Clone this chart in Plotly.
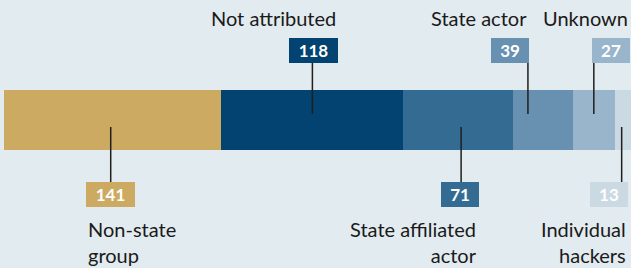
import plotly.graph_objects as go

categories = ["Non-state group", "Not attributed", "State affiliated actor",
              "State actor", "Unknown", "Individual hackers"]
labels = ["Non-state<br>group", "Not attributed", "State affiliated<br>actor",
          "State actor", "Unknown", "Individual<br>hackers"]
values = [141, 118, 71, 39, 27, 13]
colors = ["#cdaa62", "#024372", "#346b93", "#6790b1", "#99b5cc", "#cbd9e3"]

# style: which side the callout sits, line offset (px), box anchor, box offset (px), text anchor
side = ["bottom", "top", "bottom", "top", "top", "bottom"]
line_dx = [-2, 0, 3, -15, 0, -3]
box_anchor = ["center", "center", "center", "right", "left", "right"]
box_dx = [0, 1, -1, 1, -2, 6]
text_anchor = ["left", "right", "right", "right", "right", "right"]

W, H = 631, 268
BG = "#e2ebef"
FONT = "Lato"

# pixel geometry
L_PX = 4.0          # left edge of bar
K = 1.542           # px per unit
BAR_TOP, BAR_BOT = 90, 150
x_min = -L_PX / K
x_max = (W - L_PX) / K
ppu_y = BAR_BOT - BAR_TOP
yc = (BAR_TOP + BAR_BOT) / 2
y_top = yc / ppu_y
y_bot = -(H - yc) / ppu_y


def py(pix):
    return y_top - pix / ppu_y


fig = go.Figure()
for cat, v, c in zip(categories, values, colors):
    fig.add_trace(go.Bar(x=[v], y=[0], orientation="h", name=cat,
                         marker=dict(color=c, line=dict(width=0)),
                         width=1, hoverinfo="skip", showlegend=False))

cum = 0
shapes = []
annotations = []
for i, v in enumerate(values):
    mid = cum + v / 2
    cum += v
    n = str(v)
    bw = 49 if len(n) >= 3 else 38
    bh = 25
    if box_anchor[i] == "center":
        b_left = line_dx[i] + box_dx[i] - bw / 2
    elif box_anchor[i] == "right":
        b_left = line_dx[i] + box_dx[i] - bw
    else:
        b_left = line_dx[i] + box_dx[i]
    b_right = b_left + bw
    if side[i] == "top":
        ly0, ly1 = 63, 114
        box_y = 50.5
        text_y, t_yanchor = 18, "middle"
    else:
        ly0, ly1 = 127, 182
        box_y = 194.5
        text_y, t_yanchor = 215, "top"
    shapes.append(dict(type="line", xref="x", yref="y", xsizemode="pixel",
                       xanchor=mid, x0=line_dx[i], x1=line_dx[i],
                       y0=py(ly0), y1=py(ly1),
                       line=dict(color="#1f1f1f", width=1.5), layer="above"))
    annotations.append(dict(x=mid, y=py(box_y), xref="x", yref="y",
                            xanchor="left", yanchor="middle", xshift=b_left,
                            text="<b>%s</b>" % n, showarrow=False,
                            width=bw, height=bh, bgcolor=colors[i],
                            borderwidth=0, borderpad=0, align="center",
                            font=dict(family=FONT, size=17, color="white")))
    if text_anchor[i] == "left":
        tx, xa, al = b_left, "left", "left"
    else:
        tx, xa, al = b_right, "right", "right"
    annotations.append(dict(x=mid, y=py(text_y), xref="x", yref="y",
                            xanchor=xa, yanchor=t_yanchor, xshift=tx,
                            text=labels[i], showarrow=False, align=al,
                            font=dict(family=FONT, size=20, color="#1a1a1a")))

fig.update_layout(
    width=W, height=H, barmode="stack",
    margin=dict(l=0, r=0, t=0, b=0),
    paper_bgcolor=BG, plot_bgcolor=BG,
    xaxis=dict(range=[x_min, x_max], visible=False, fixedrange=True),
    yaxis=dict(range=[y_bot, y_top], visible=False, fixedrange=True),
    shapes=shapes, annotations=annotations, bargap=0,
)
fig.write_html("out.html", config={"displayModeBar": False},
               post_script="document.body.style.margin='0';document.body.style.overflow='hidden';")
